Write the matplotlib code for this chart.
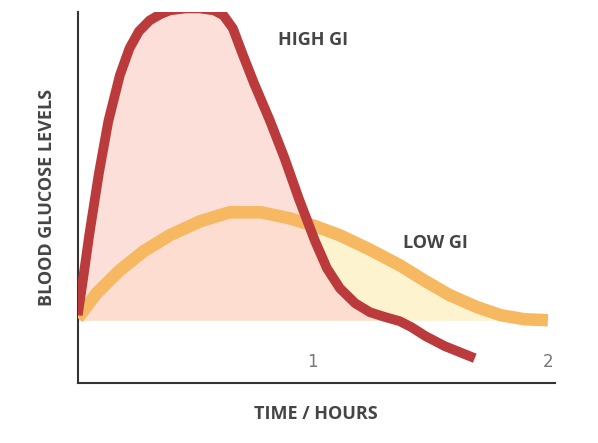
import matplotlib
matplotlib.use("Agg")
import matplotlib.pyplot as plt
import numpy as np

hours_high = [0, 0.02, 0.05, 0.09, 0.13, 0.179, 0.22, 0.26, 0.306, 0.35, 0.391, 0.46, 0.519, 0.58, 0.62, 0.66, 0.70, 0.75, 0.817, 0.88, 0.94, 1.008, 1.06, 1.115, 1.18, 1.243, 1.31, 1.37, 1.42, 1.48, 1.562, 1.689]
level_high = [68, 100, 150, 210, 262, 308, 335, 352, 363, 369, 373, 375, 375, 373, 368, 355, 330, 300, 263, 225, 185, 143, 115, 95, 80, 71, 66, 62, 56, 47, 37, 25]
hours_low = [0, 0.08, 0.179, 0.28, 0.391, 0.52, 0.646, 0.78, 0.9, 1.0, 1.115, 1.24, 1.37, 1.48, 1.583, 1.7, 1.8, 1.9, 2.0]
level_low = [65, 90, 113, 132, 148, 162, 171, 171, 165, 158, 148, 134, 118, 102, 88, 76, 68, 64, 63]
baseline = 63
xticks = [1, 2]
xtick_labels = ["1", "2"]

fig = plt.figure(figsize=(5.98, 4.43), dpi=100)
ax = fig.add_axes([0.130, 0.135, 0.798, 0.837])
ax.set_xlim(0, 2.03)
ax.set_ylim(0, 371)

hh, lh = np.array(hours_high), np.array(level_high)
hl, ll = np.array(hours_low), np.array(level_low)
ax.fill_between(hl, ll, baseline, where=ll >= baseline, color="#fdf3cf", lw=0, zorder=1)
ax.fill_between(hh, lh, baseline, where=lh >= baseline, color="#fcd8d0", alpha=0.8, lw=0, zorder=2)
ax.plot(hl, ll, color="#f6b860", lw=9, solid_capstyle="butt", solid_joinstyle="round", zorder=3)
ax.plot(hh, lh, color="#bb3a3c", lw=7, solid_capstyle="butt", solid_joinstyle="round", zorder=4)

ax.text(1.0, 343, "HIGH GI", fontsize=13, fontweight="bold", color="#454545", ha="center", va="center", family="Open Sans")
ax.text(1.52, 140, "LOW GI", fontsize=13, fontweight="bold", color="#454545", ha="center", va="center", family="Open Sans")

for s in ["top", "right"]:
    ax.spines[s].set_visible(False)
for s in ["left", "bottom"]:
    ax.spines[s].set_color("#333333")
    ax.spines[s].set_linewidth(1.5)
ax.set_yticks([])
ax.set_xticks(xticks)
ax.set_xticklabels(xtick_labels, color="#777777", fontsize=12)
ax.tick_params(axis="x", length=0, pad=-22)
ax.set_ylabel("BLOOD GLUCOSE LEVELS", fontsize=13, fontweight="bold", color="#454545", family="Open Sans", labelpad=16)
ax.set_xlabel("TIME / HOURS", fontsize=13, fontweight="bold", color="#454545", family="Open Sans", labelpad=16)
fig.savefig("out.png", dpi=100)
